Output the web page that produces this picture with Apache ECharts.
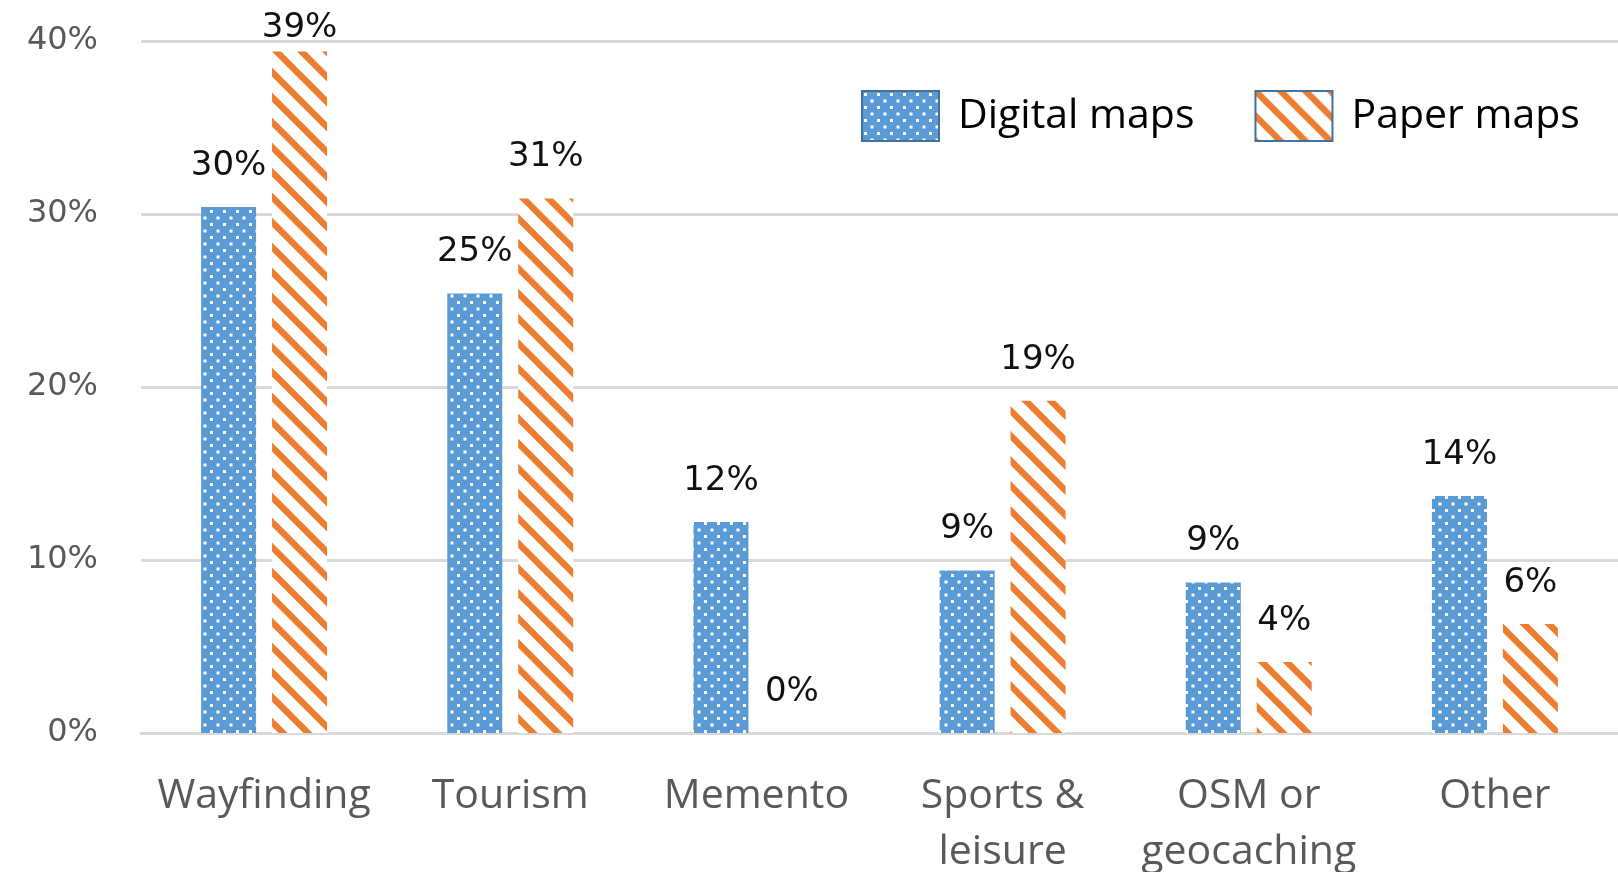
<!DOCTYPE html>
<html>
<head>
<meta charset="utf-8">
<script src="https://cdn.jsdelivr.net/npm/echarts@6/dist/echarts.min.js"></script>
<style>
html,body{margin:0;padding:0;background:#fff;}
#chart{width:1618px;height:872px;}
</style>
</head>
<body>
<div id="chart"></div>
<script>
const categories = ['Wayfinding', 'Tourism', 'Memento', 'Sports &\nleisure', 'OSM or\ngeocaching', 'Other'];
const digitalMaps = [30.4, 25.4, 12.2, 9.4, 8.7, 13.7];
const paperMaps = [39.4, 30.9, 0, 19.2, 4.1, 6.3];
const seriesNames = ['Digital maps', 'Paper maps'];
const yTicks = { min: 0, max: 40, interval: 10 };

function dotPattern() {
  const c = document.createElement('canvas');
  c.width = 13; c.height = 13;
  const g = c.getContext('2d');
  g.fillStyle = '#5B9BD5';
  g.fillRect(0, 0, 13, 13);
  g.fillStyle = '#ffffff';
  g.fillRect(2, 2, 3, 3);
  g.fillRect(8.5, 8.5, 3, 3);
  return { image: c, repeat: 'repeat' };
}
function stripePattern() {
  const s = 25;
  const c = document.createElement('canvas');
  c.width = s; c.height = s;
  const g = c.getContext('2d');
  g.fillStyle = '#ffffff';
  g.fillRect(0, 0, s, s);
  g.strokeStyle = '#ED7D31';
  g.lineWidth = 6.5;
  for (let k = -1; k <= 1; k++) {
    g.beginPath();
    g.moveTo(k * s - 5, -5);
    g.lineTo(k * s + s + 5, s + 5);
    g.stroke();
  }
  return { image: c, repeat: 'repeat' };
}

function labelFor(v) {
  return {
    show: true,
    position: 'top',
    distance: v > 37 ? 6 : 24,
    formatter: p => Math.round(p.value) + '%',
    fontFamily: 'DejaVu Sans',
    fontSize: 34,
    color: '#111'
  };
}
function toData(arr) {
  return arr.map(v => ({ value: v, label: labelFor(v) }));
}

const chart = echarts.init(document.getElementById('chart'), null, { renderer: 'canvas' });
chart.setOption({
  animation: false,
  backgroundColor: '#ffffff',
  grid: { left: 141, right: 0, top: 41, bottom: 139, containLabel: false, outerBoundsMode: 'none' },
  legend: {
    left: 861, top: 90, padding: 0,
    itemWidth: 77, itemHeight: 50, itemGap: 60,
    icon: 'rect',
    itemStyle: { borderColor: '#41719C', borderWidth: 2 },
    textStyle: { fontFamily: 'Open Sans', fontSize: 41, color: '#000', padding: [0, 0, 0, 14] },
    data: seriesNames
  },
  xAxis: {
    type: 'category',
    data: categories,
    axisTick: { show: false },
    axisLine: { show: true, lineStyle: { color: '#D9D9D9', width: 3 } },
    axisLabel: { fontFamily: 'Open Sans', fontSize: 41, lineHeight: 56, color: '#595959', margin: 35, interval: 0 }
  },
  yAxis: {
    type: 'value',
    min: yTicks.min, max: yTicks.max, interval: yTicks.interval,
    axisLine: { show: false },
    axisTick: { show: false },
    splitLine: { lineStyle: { color: '#D9D9D9', width: 3 } },
    axisLabel: { formatter: '{value}%', fontFamily: 'DejaVu Sans', fontSize: 32, color: '#595959', margin: 43 }
  },
  series: [
    {
      name: seriesNames[0], type: 'bar', barWidth: 55, barGap: '29%',
      itemStyle: { color: dotPattern() },
      data: toData(digitalMaps)
    },
    {
      name: seriesNames[1], type: 'bar', barWidth: 55,
      itemStyle: { color: stripePattern() },
      data: toData(paperMaps)
    }
  ]
});
</script>
</body>
</html>
